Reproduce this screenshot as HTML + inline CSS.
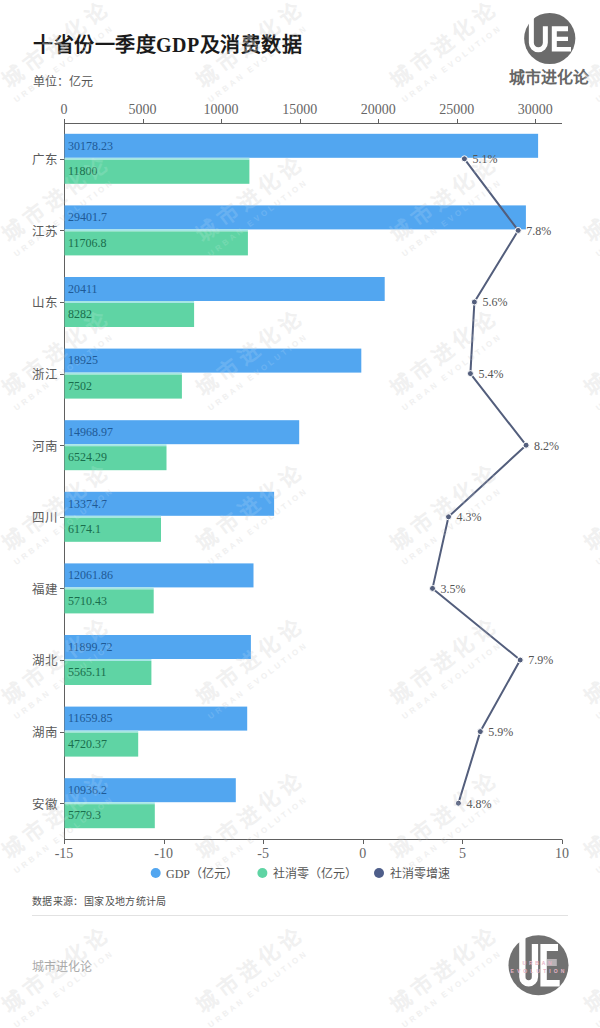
<!DOCTYPE html>
<html lang="zh-CN"><head><meta charset="utf-8">
<style>
html,body{margin:0;padding:0;background:#fff;width:600px;height:1028px;overflow:hidden}
svg{display:block}
text{font-family:"Liberation Serif",serif}
.ax{font-size:14px;fill:#666666}
.bl{font-size:12px;fill:#1f5a96}
.gl{font-size:12px;fill:#1a6e4c}
.cat{font-size:12.5px;fill:#5a5a5a}
.pl{font-size:12px;fill:#555}
.title{font-size:20px;font-weight:bold;fill:#1a1a1a;letter-spacing:0.5px}
.unit{font-size:12px;fill:#555}
.leg{font-size:12px;fill:#555}
.src{font-size:10px;letter-spacing:0.37px;fill:#505050}
.wm1{font-size:21px;font-weight:bold;letter-spacing:5px;fill:#c8c8c8;opacity:0.28}
.wm2{font-family:'Liberation Sans',sans-serif;font-size:8px;font-weight:bold;letter-spacing:3px;fill:#c8c8c8;opacity:0.28}
.wm1b{font-size:21px;font-weight:bold;letter-spacing:5px;fill:#fff;opacity:0.13}
.wm2b{font-family:'Liberation Sans',sans-serif;font-size:8px;font-weight:bold;letter-spacing:3px;fill:#fff;opacity:0.13}
.brand{font-size:12px;fill:#aaa}
.logo{font-size:16px;font-weight:bold;fill:#666}
</style></head><body>
<svg width="600" height="1028" viewBox="0 0 600 1028">
<rect width="600" height="1028" fill="#fff"/>
<text x="33" y="52" class="title">十省份一季度GDP及消费数据</text>
<text x="33" y="85.5" class="unit">单位：亿元</text>
<!-- top logo -->
<circle cx="549.75" cy="38.5" r="25.6" fill="#6b6b6b"/>
<path d="M531.35,10 V42.7 A7,7 0 0 0 545.35,42.7 V26.2" fill="none" stroke="#fff" stroke-width="5"/>
<path d="M551.8,26.2 H568 V31.2 H556.8 V36.8 H568 V41.1 H556.8 V47 H571 V51.6 H551.8 Z" fill="#fff"/>
<text x="549" y="83" text-anchor="middle" class="logo">城市进化论</text>
<g><g transform="translate(55,45.0) rotate(-37)"><text x="2" y="7.5" text-anchor="middle" class="wm1">城市进化论</text><text x="-4" y="23" text-anchor="middle" class="wm2">URBAN EVOLUTION</text></g>
<g transform="translate(55,199.2) rotate(-37)"><text x="2" y="7.5" text-anchor="middle" class="wm1">城市进化论</text><text x="-4" y="23" text-anchor="middle" class="wm2">URBAN EVOLUTION</text></g>
<g transform="translate(55,353.4) rotate(-37)"><text x="2" y="7.5" text-anchor="middle" class="wm1">城市进化论</text><text x="-4" y="23" text-anchor="middle" class="wm2">URBAN EVOLUTION</text></g>
<g transform="translate(55,507.6) rotate(-37)"><text x="2" y="7.5" text-anchor="middle" class="wm1">城市进化论</text><text x="-4" y="23" text-anchor="middle" class="wm2">URBAN EVOLUTION</text></g>
<g transform="translate(55,661.8) rotate(-37)"><text x="2" y="7.5" text-anchor="middle" class="wm1">城市进化论</text><text x="-4" y="23" text-anchor="middle" class="wm2">URBAN EVOLUTION</text></g>
<g transform="translate(55,816.0) rotate(-37)"><text x="2" y="7.5" text-anchor="middle" class="wm1">城市进化论</text><text x="-4" y="23" text-anchor="middle" class="wm2">URBAN EVOLUTION</text></g>
<g transform="translate(55,970.2) rotate(-37)"><text x="2" y="7.5" text-anchor="middle" class="wm1">城市进化论</text><text x="-4" y="23" text-anchor="middle" class="wm2">URBAN EVOLUTION</text></g>
<g transform="translate(249,45.0) rotate(-37)"><text x="2" y="7.5" text-anchor="middle" class="wm1">城市进化论</text><text x="-4" y="23" text-anchor="middle" class="wm2">URBAN EVOLUTION</text></g>
<g transform="translate(249,199.2) rotate(-37)"><text x="2" y="7.5" text-anchor="middle" class="wm1">城市进化论</text><text x="-4" y="23" text-anchor="middle" class="wm2">URBAN EVOLUTION</text></g>
<g transform="translate(249,353.4) rotate(-37)"><text x="2" y="7.5" text-anchor="middle" class="wm1">城市进化论</text><text x="-4" y="23" text-anchor="middle" class="wm2">URBAN EVOLUTION</text></g>
<g transform="translate(249,507.6) rotate(-37)"><text x="2" y="7.5" text-anchor="middle" class="wm1">城市进化论</text><text x="-4" y="23" text-anchor="middle" class="wm2">URBAN EVOLUTION</text></g>
<g transform="translate(249,661.8) rotate(-37)"><text x="2" y="7.5" text-anchor="middle" class="wm1">城市进化论</text><text x="-4" y="23" text-anchor="middle" class="wm2">URBAN EVOLUTION</text></g>
<g transform="translate(249,816.0) rotate(-37)"><text x="2" y="7.5" text-anchor="middle" class="wm1">城市进化论</text><text x="-4" y="23" text-anchor="middle" class="wm2">URBAN EVOLUTION</text></g>
<g transform="translate(249,970.2) rotate(-37)"><text x="2" y="7.5" text-anchor="middle" class="wm1">城市进化论</text><text x="-4" y="23" text-anchor="middle" class="wm2">URBAN EVOLUTION</text></g>
<g transform="translate(443,45.0) rotate(-37)"><text x="2" y="7.5" text-anchor="middle" class="wm1">城市进化论</text><text x="-4" y="23" text-anchor="middle" class="wm2">URBAN EVOLUTION</text></g>
<g transform="translate(443,199.2) rotate(-37)"><text x="2" y="7.5" text-anchor="middle" class="wm1">城市进化论</text><text x="-4" y="23" text-anchor="middle" class="wm2">URBAN EVOLUTION</text></g>
<g transform="translate(443,353.4) rotate(-37)"><text x="2" y="7.5" text-anchor="middle" class="wm1">城市进化论</text><text x="-4" y="23" text-anchor="middle" class="wm2">URBAN EVOLUTION</text></g>
<g transform="translate(443,507.6) rotate(-37)"><text x="2" y="7.5" text-anchor="middle" class="wm1">城市进化论</text><text x="-4" y="23" text-anchor="middle" class="wm2">URBAN EVOLUTION</text></g>
<g transform="translate(443,661.8) rotate(-37)"><text x="2" y="7.5" text-anchor="middle" class="wm1">城市进化论</text><text x="-4" y="23" text-anchor="middle" class="wm2">URBAN EVOLUTION</text></g>
<g transform="translate(443,816.0) rotate(-37)"><text x="2" y="7.5" text-anchor="middle" class="wm1">城市进化论</text><text x="-4" y="23" text-anchor="middle" class="wm2">URBAN EVOLUTION</text></g>
<g transform="translate(443,970.2) rotate(-37)"><text x="2" y="7.5" text-anchor="middle" class="wm1">城市进化论</text><text x="-4" y="23" text-anchor="middle" class="wm2">URBAN EVOLUTION</text></g>
<g transform="translate(637,45.0) rotate(-37)"><text x="2" y="7.5" text-anchor="middle" class="wm1">城市进化论</text><text x="-4" y="23" text-anchor="middle" class="wm2">URBAN EVOLUTION</text></g>
<g transform="translate(637,199.2) rotate(-37)"><text x="2" y="7.5" text-anchor="middle" class="wm1">城市进化论</text><text x="-4" y="23" text-anchor="middle" class="wm2">URBAN EVOLUTION</text></g>
<g transform="translate(637,353.4) rotate(-37)"><text x="2" y="7.5" text-anchor="middle" class="wm1">城市进化论</text><text x="-4" y="23" text-anchor="middle" class="wm2">URBAN EVOLUTION</text></g>
<g transform="translate(637,507.6) rotate(-37)"><text x="2" y="7.5" text-anchor="middle" class="wm1">城市进化论</text><text x="-4" y="23" text-anchor="middle" class="wm2">URBAN EVOLUTION</text></g>
<g transform="translate(637,661.8) rotate(-37)"><text x="2" y="7.5" text-anchor="middle" class="wm1">城市进化论</text><text x="-4" y="23" text-anchor="middle" class="wm2">URBAN EVOLUTION</text></g>
<g transform="translate(637,816.0) rotate(-37)"><text x="2" y="7.5" text-anchor="middle" class="wm1">城市进化论</text><text x="-4" y="23" text-anchor="middle" class="wm2">URBAN EVOLUTION</text></g>
<g transform="translate(637,970.2) rotate(-37)"><text x="2" y="7.5" text-anchor="middle" class="wm1">城市进化论</text><text x="-4" y="23" text-anchor="middle" class="wm2">URBAN EVOLUTION</text></g></g>
<line x1="64.0" y1="123.5" x2="562" y2="123.5" stroke="#606060" stroke-width="1"/>
<line x1="64.5" y1="119" x2="64.5" y2="123.5" stroke="#606060" stroke-width="1"/>
<text x="64.0" y="113.7" text-anchor="middle" class="ax">0</text>
<line x1="143.5" y1="119" x2="143.5" y2="123.5" stroke="#606060" stroke-width="1"/>
<text x="142.6" y="113.7" text-anchor="middle" class="ax">5000</text>
<line x1="221.5" y1="119" x2="221.5" y2="123.5" stroke="#606060" stroke-width="1"/>
<text x="221.1" y="113.7" text-anchor="middle" class="ax">10000</text>
<line x1="300.5" y1="119" x2="300.5" y2="123.5" stroke="#606060" stroke-width="1"/>
<text x="299.7" y="113.7" text-anchor="middle" class="ax">15000</text>
<line x1="378.5" y1="119" x2="378.5" y2="123.5" stroke="#606060" stroke-width="1"/>
<text x="378.2" y="113.7" text-anchor="middle" class="ax">20000</text>
<line x1="457.5" y1="119" x2="457.5" y2="123.5" stroke="#606060" stroke-width="1"/>
<text x="456.8" y="113.7" text-anchor="middle" class="ax">25000</text>
<line x1="535.5" y1="119" x2="535.5" y2="123.5" stroke="#606060" stroke-width="1"/>
<text x="535.3" y="113.7" text-anchor="middle" class="ax">30000</text>
<line x1="64.5" y1="119" x2="64.5" y2="843" stroke="#606060" stroke-width="1"/>
<line x1="64.0" y1="839.5" x2="562" y2="839.5" stroke="#606060" stroke-width="1"/>
<line x1="64.5" y1="839.5" x2="64.5" y2="844" stroke="#606060" stroke-width="1"/>
<text x="64.0" y="857.5" text-anchor="middle" class="ax">-15</text>
<line x1="164.5" y1="839.5" x2="164.5" y2="844" stroke="#606060" stroke-width="1"/>
<text x="163.6" y="857.5" text-anchor="middle" class="ax">-10</text>
<line x1="263.5" y1="839.5" x2="263.5" y2="844" stroke="#606060" stroke-width="1"/>
<text x="263.2" y="857.5" text-anchor="middle" class="ax">-5</text>
<line x1="363.5" y1="839.5" x2="363.5" y2="844" stroke="#606060" stroke-width="1"/>
<text x="362.8" y="857.5" text-anchor="middle" class="ax">0</text>
<line x1="462.5" y1="839.5" x2="462.5" y2="844" stroke="#606060" stroke-width="1"/>
<text x="462.4" y="857.5" text-anchor="middle" class="ax">5</text>
<line x1="562.5" y1="839.5" x2="562.5" y2="844" stroke="#606060" stroke-width="1"/>
<text x="562.0" y="857.5" text-anchor="middle" class="ax">10</text>
<rect x="64.5" y="133.8" width="473.6" height="24" fill="#52a6f0"/>
<rect x="64.5" y="157.8" width="184.9" height="2" fill="#a6e6e4"/>
<rect x="64.5" y="159.8" width="184.9" height="24" fill="#5fd4a4"/>
<text x="68" y="149.5" class="bl">30178.23</text>
<text x="68" y="175.0" class="gl">11800</text>
<line x1="60" y1="159.5" x2="64" y2="159.5" stroke="#606060" stroke-width="1"/>
<text x="57.5" y="164.1" text-anchor="end" class="cat">广东</text>
<rect x="64.5" y="205.4" width="461.4" height="24" fill="#52a6f0"/>
<rect x="64.5" y="229.4" width="183.4" height="2" fill="#a6e6e4"/>
<rect x="64.5" y="231.4" width="183.4" height="24" fill="#5fd4a4"/>
<text x="68" y="221.1" class="bl">29401.7</text>
<text x="68" y="246.6" class="gl">11706.8</text>
<line x1="60" y1="230.5" x2="64" y2="230.5" stroke="#606060" stroke-width="1"/>
<text x="57.5" y="235.7" text-anchor="end" class="cat">江苏</text>
<rect x="64.5" y="277.0" width="320.2" height="24" fill="#52a6f0"/>
<rect x="64.5" y="301.0" width="129.6" height="2" fill="#a6e6e4"/>
<rect x="64.5" y="303.0" width="129.6" height="24" fill="#5fd4a4"/>
<text x="68" y="292.7" class="bl">20411</text>
<text x="68" y="318.2" class="gl">8282</text>
<line x1="60" y1="302.5" x2="64" y2="302.5" stroke="#606060" stroke-width="1"/>
<text x="57.5" y="307.3" text-anchor="end" class="cat">山东</text>
<rect x="64.5" y="348.6" width="296.8" height="24" fill="#52a6f0"/>
<rect x="64.5" y="372.6" width="117.4" height="2" fill="#a6e6e4"/>
<rect x="64.5" y="374.6" width="117.4" height="24" fill="#5fd4a4"/>
<text x="68" y="364.3" class="bl">18925</text>
<text x="68" y="389.8" class="gl">7502</text>
<line x1="60" y1="374.5" x2="64" y2="374.5" stroke="#606060" stroke-width="1"/>
<text x="57.5" y="378.9" text-anchor="end" class="cat">浙江</text>
<rect x="64.5" y="420.2" width="234.7" height="24" fill="#52a6f0"/>
<rect x="64.5" y="444.2" width="102.0" height="2" fill="#a6e6e4"/>
<rect x="64.5" y="446.2" width="102.0" height="24" fill="#5fd4a4"/>
<text x="68" y="435.9" class="bl">14968.97</text>
<text x="68" y="461.4" class="gl">6524.29</text>
<line x1="60" y1="445.5" x2="64" y2="445.5" stroke="#606060" stroke-width="1"/>
<text x="57.5" y="450.5" text-anchor="end" class="cat">河南</text>
<rect x="64.5" y="491.8" width="209.6" height="24" fill="#52a6f0"/>
<rect x="64.5" y="515.8" width="96.5" height="2" fill="#a6e6e4"/>
<rect x="64.5" y="517.8" width="96.5" height="24" fill="#5fd4a4"/>
<text x="68" y="507.5" class="bl">13374.7</text>
<text x="68" y="533.0" class="gl">6174.1</text>
<line x1="60" y1="517.5" x2="64" y2="517.5" stroke="#606060" stroke-width="1"/>
<text x="57.5" y="522.1" text-anchor="end" class="cat">四川</text>
<rect x="64.5" y="563.4" width="189.0" height="24" fill="#52a6f0"/>
<rect x="64.5" y="587.4" width="89.2" height="2" fill="#a6e6e4"/>
<rect x="64.5" y="589.4" width="89.2" height="24" fill="#5fd4a4"/>
<text x="68" y="579.1" class="bl">12061.86</text>
<text x="68" y="604.6" class="gl">5710.43</text>
<line x1="60" y1="588.5" x2="64" y2="588.5" stroke="#606060" stroke-width="1"/>
<text x="57.5" y="593.7" text-anchor="end" class="cat">福建</text>
<rect x="64.5" y="635.0" width="186.4" height="24" fill="#52a6f0"/>
<rect x="64.5" y="659.0" width="86.9" height="2" fill="#a6e6e4"/>
<rect x="64.5" y="661.0" width="86.9" height="24" fill="#5fd4a4"/>
<text x="68" y="650.7" class="bl">11899.72</text>
<text x="68" y="676.2" class="gl">5565.11</text>
<line x1="60" y1="660.5" x2="64" y2="660.5" stroke="#606060" stroke-width="1"/>
<text x="57.5" y="665.3" text-anchor="end" class="cat">湖北</text>
<rect x="64.5" y="706.6" width="182.7" height="24" fill="#52a6f0"/>
<rect x="64.5" y="730.6" width="73.7" height="2" fill="#a6e6e4"/>
<rect x="64.5" y="732.6" width="73.7" height="24" fill="#5fd4a4"/>
<text x="68" y="722.3" class="bl">11659.85</text>
<text x="68" y="747.8" class="gl">4720.37</text>
<line x1="60" y1="732.5" x2="64" y2="732.5" stroke="#606060" stroke-width="1"/>
<text x="57.5" y="736.9" text-anchor="end" class="cat">湖南</text>
<rect x="64.5" y="778.2" width="171.3" height="24" fill="#52a6f0"/>
<rect x="64.5" y="802.2" width="90.3" height="2" fill="#a6e6e4"/>
<rect x="64.5" y="804.2" width="90.3" height="24" fill="#5fd4a4"/>
<text x="68" y="793.9" class="bl">10936.2</text>
<text x="68" y="819.4" class="gl">5779.3</text>
<line x1="60" y1="803.5" x2="64" y2="803.5" stroke="#606060" stroke-width="1"/>
<text x="57.5" y="808.5" text-anchor="end" class="cat">安徽</text>
<polyline points="464.4,158.8 518.2,230.4 474.4,302.0 470.4,373.6 526.1,445.2 448.5,516.8 432.5,588.4 520.2,660.0 480.3,731.6 458.4,803.2" fill="none" stroke="#535e7c" stroke-width="2" stroke-linejoin="round"/>
<circle cx="464.4" cy="158.8" r="3" fill="#535e7c" stroke="#fff" stroke-width="1"/>
<text x="472.4" y="163.1" class="pl">5.1%</text>
<circle cx="518.2" cy="230.4" r="3" fill="#535e7c" stroke="#fff" stroke-width="1"/>
<text x="526.2" y="234.7" class="pl">7.8%</text>
<circle cx="474.4" cy="302.0" r="3" fill="#535e7c" stroke="#fff" stroke-width="1"/>
<text x="482.4" y="306.3" class="pl">5.6%</text>
<circle cx="470.4" cy="373.6" r="3" fill="#535e7c" stroke="#fff" stroke-width="1"/>
<text x="478.4" y="377.9" class="pl">5.4%</text>
<circle cx="526.1" cy="445.2" r="3" fill="#535e7c" stroke="#fff" stroke-width="1"/>
<text x="534.1" y="449.5" class="pl">8.2%</text>
<circle cx="448.5" cy="516.8" r="3" fill="#535e7c" stroke="#fff" stroke-width="1"/>
<text x="456.5" y="521.1" class="pl">4.3%</text>
<circle cx="432.5" cy="588.4" r="3" fill="#535e7c" stroke="#fff" stroke-width="1"/>
<text x="440.5" y="592.7" class="pl">3.5%</text>
<circle cx="520.2" cy="660.0" r="3" fill="#535e7c" stroke="#fff" stroke-width="1"/>
<text x="528.2" y="664.3" class="pl">7.9%</text>
<circle cx="480.3" cy="731.6" r="3" fill="#535e7c" stroke="#fff" stroke-width="1"/>
<text x="488.3" y="735.9" class="pl">5.9%</text>
<circle cx="458.4" cy="803.2" r="3" fill="#535e7c" stroke="#fff" stroke-width="1"/>
<text x="466.4" y="807.5" class="pl">4.8%</text>
<g><g transform="translate(55,45.0) rotate(-37)"><text x="2" y="7.5" text-anchor="middle" class="wm1b">城市进化论</text><text x="-4" y="23" text-anchor="middle" class="wm2b">URBAN EVOLUTION</text></g>
<g transform="translate(55,199.2) rotate(-37)"><text x="2" y="7.5" text-anchor="middle" class="wm1b">城市进化论</text><text x="-4" y="23" text-anchor="middle" class="wm2b">URBAN EVOLUTION</text></g>
<g transform="translate(55,353.4) rotate(-37)"><text x="2" y="7.5" text-anchor="middle" class="wm1b">城市进化论</text><text x="-4" y="23" text-anchor="middle" class="wm2b">URBAN EVOLUTION</text></g>
<g transform="translate(55,507.6) rotate(-37)"><text x="2" y="7.5" text-anchor="middle" class="wm1b">城市进化论</text><text x="-4" y="23" text-anchor="middle" class="wm2b">URBAN EVOLUTION</text></g>
<g transform="translate(55,661.8) rotate(-37)"><text x="2" y="7.5" text-anchor="middle" class="wm1b">城市进化论</text><text x="-4" y="23" text-anchor="middle" class="wm2b">URBAN EVOLUTION</text></g>
<g transform="translate(55,816.0) rotate(-37)"><text x="2" y="7.5" text-anchor="middle" class="wm1b">城市进化论</text><text x="-4" y="23" text-anchor="middle" class="wm2b">URBAN EVOLUTION</text></g>
<g transform="translate(55,970.2) rotate(-37)"><text x="2" y="7.5" text-anchor="middle" class="wm1b">城市进化论</text><text x="-4" y="23" text-anchor="middle" class="wm2b">URBAN EVOLUTION</text></g>
<g transform="translate(249,45.0) rotate(-37)"><text x="2" y="7.5" text-anchor="middle" class="wm1b">城市进化论</text><text x="-4" y="23" text-anchor="middle" class="wm2b">URBAN EVOLUTION</text></g>
<g transform="translate(249,199.2) rotate(-37)"><text x="2" y="7.5" text-anchor="middle" class="wm1b">城市进化论</text><text x="-4" y="23" text-anchor="middle" class="wm2b">URBAN EVOLUTION</text></g>
<g transform="translate(249,353.4) rotate(-37)"><text x="2" y="7.5" text-anchor="middle" class="wm1b">城市进化论</text><text x="-4" y="23" text-anchor="middle" class="wm2b">URBAN EVOLUTION</text></g>
<g transform="translate(249,507.6) rotate(-37)"><text x="2" y="7.5" text-anchor="middle" class="wm1b">城市进化论</text><text x="-4" y="23" text-anchor="middle" class="wm2b">URBAN EVOLUTION</text></g>
<g transform="translate(249,661.8) rotate(-37)"><text x="2" y="7.5" text-anchor="middle" class="wm1b">城市进化论</text><text x="-4" y="23" text-anchor="middle" class="wm2b">URBAN EVOLUTION</text></g>
<g transform="translate(249,816.0) rotate(-37)"><text x="2" y="7.5" text-anchor="middle" class="wm1b">城市进化论</text><text x="-4" y="23" text-anchor="middle" class="wm2b">URBAN EVOLUTION</text></g>
<g transform="translate(249,970.2) rotate(-37)"><text x="2" y="7.5" text-anchor="middle" class="wm1b">城市进化论</text><text x="-4" y="23" text-anchor="middle" class="wm2b">URBAN EVOLUTION</text></g>
<g transform="translate(443,45.0) rotate(-37)"><text x="2" y="7.5" text-anchor="middle" class="wm1b">城市进化论</text><text x="-4" y="23" text-anchor="middle" class="wm2b">URBAN EVOLUTION</text></g>
<g transform="translate(443,199.2) rotate(-37)"><text x="2" y="7.5" text-anchor="middle" class="wm1b">城市进化论</text><text x="-4" y="23" text-anchor="middle" class="wm2b">URBAN EVOLUTION</text></g>
<g transform="translate(443,353.4) rotate(-37)"><text x="2" y="7.5" text-anchor="middle" class="wm1b">城市进化论</text><text x="-4" y="23" text-anchor="middle" class="wm2b">URBAN EVOLUTION</text></g>
<g transform="translate(443,507.6) rotate(-37)"><text x="2" y="7.5" text-anchor="middle" class="wm1b">城市进化论</text><text x="-4" y="23" text-anchor="middle" class="wm2b">URBAN EVOLUTION</text></g>
<g transform="translate(443,661.8) rotate(-37)"><text x="2" y="7.5" text-anchor="middle" class="wm1b">城市进化论</text><text x="-4" y="23" text-anchor="middle" class="wm2b">URBAN EVOLUTION</text></g>
<g transform="translate(443,816.0) rotate(-37)"><text x="2" y="7.5" text-anchor="middle" class="wm1b">城市进化论</text><text x="-4" y="23" text-anchor="middle" class="wm2b">URBAN EVOLUTION</text></g>
<g transform="translate(443,970.2) rotate(-37)"><text x="2" y="7.5" text-anchor="middle" class="wm1b">城市进化论</text><text x="-4" y="23" text-anchor="middle" class="wm2b">URBAN EVOLUTION</text></g>
<g transform="translate(637,45.0) rotate(-37)"><text x="2" y="7.5" text-anchor="middle" class="wm1b">城市进化论</text><text x="-4" y="23" text-anchor="middle" class="wm2b">URBAN EVOLUTION</text></g>
<g transform="translate(637,199.2) rotate(-37)"><text x="2" y="7.5" text-anchor="middle" class="wm1b">城市进化论</text><text x="-4" y="23" text-anchor="middle" class="wm2b">URBAN EVOLUTION</text></g>
<g transform="translate(637,353.4) rotate(-37)"><text x="2" y="7.5" text-anchor="middle" class="wm1b">城市进化论</text><text x="-4" y="23" text-anchor="middle" class="wm2b">URBAN EVOLUTION</text></g>
<g transform="translate(637,507.6) rotate(-37)"><text x="2" y="7.5" text-anchor="middle" class="wm1b">城市进化论</text><text x="-4" y="23" text-anchor="middle" class="wm2b">URBAN EVOLUTION</text></g>
<g transform="translate(637,661.8) rotate(-37)"><text x="2" y="7.5" text-anchor="middle" class="wm1b">城市进化论</text><text x="-4" y="23" text-anchor="middle" class="wm2b">URBAN EVOLUTION</text></g>
<g transform="translate(637,816.0) rotate(-37)"><text x="2" y="7.5" text-anchor="middle" class="wm1b">城市进化论</text><text x="-4" y="23" text-anchor="middle" class="wm2b">URBAN EVOLUTION</text></g>
<g transform="translate(637,970.2) rotate(-37)"><text x="2" y="7.5" text-anchor="middle" class="wm1b">城市进化论</text><text x="-4" y="23" text-anchor="middle" class="wm2b">URBAN EVOLUTION</text></g></g>
<!-- legend -->
<circle cx="155.7" cy="873" r="5" fill="#52a6f0"/>
<text x="166" y="877.5" class="leg">GDP（亿元）</text>
<circle cx="262.4" cy="873" r="5" fill="#5fd4a4"/>
<text x="273" y="877.5" class="leg">社消零（亿元）</text>
<circle cx="379" cy="873" r="5" fill="#4e5e8a"/>
<text x="390" y="877.5" class="leg">社消零增速</text>
<text x="32" y="905" class="src">数据来源：国家及地方统计局</text>
<line x1="32" y1="915.5" x2="568" y2="915.5" stroke="#e2e2e2" stroke-width="1"/>
<text x="32" y="970.5" class="brand">城市进化论</text>
<circle cx="538.5" cy="965.3" r="30" fill="#717171"/>
<path d="M522.35,930 V977 A6.3,6.3 0 0 0 534.95,977 V944" fill="none" stroke="#fff" stroke-width="6.3"/>
<path d="M540.4,944 H558 V951 H546.8 V980 H559.7 V986.4 H540.4 Z" fill="#fff"/>
<rect x="546.8" y="959" width="10" height="7" fill="#e8dde2" opacity="0.6"/>
<text x="538.5" y="965.2" text-anchor="middle" style="font-family:'Liberation Sans',sans-serif;font-size:5px;font-weight:bold;letter-spacing:2.8px;fill:#e6b3c7">URBAN</text>
<text x="539" y="973.3" text-anchor="middle" style="font-family:'Liberation Sans',sans-serif;font-size:5px;font-weight:bold;letter-spacing:3.1px;fill:#e6b3c7">EVOLUTION</text>
</svg>
</body></html>
